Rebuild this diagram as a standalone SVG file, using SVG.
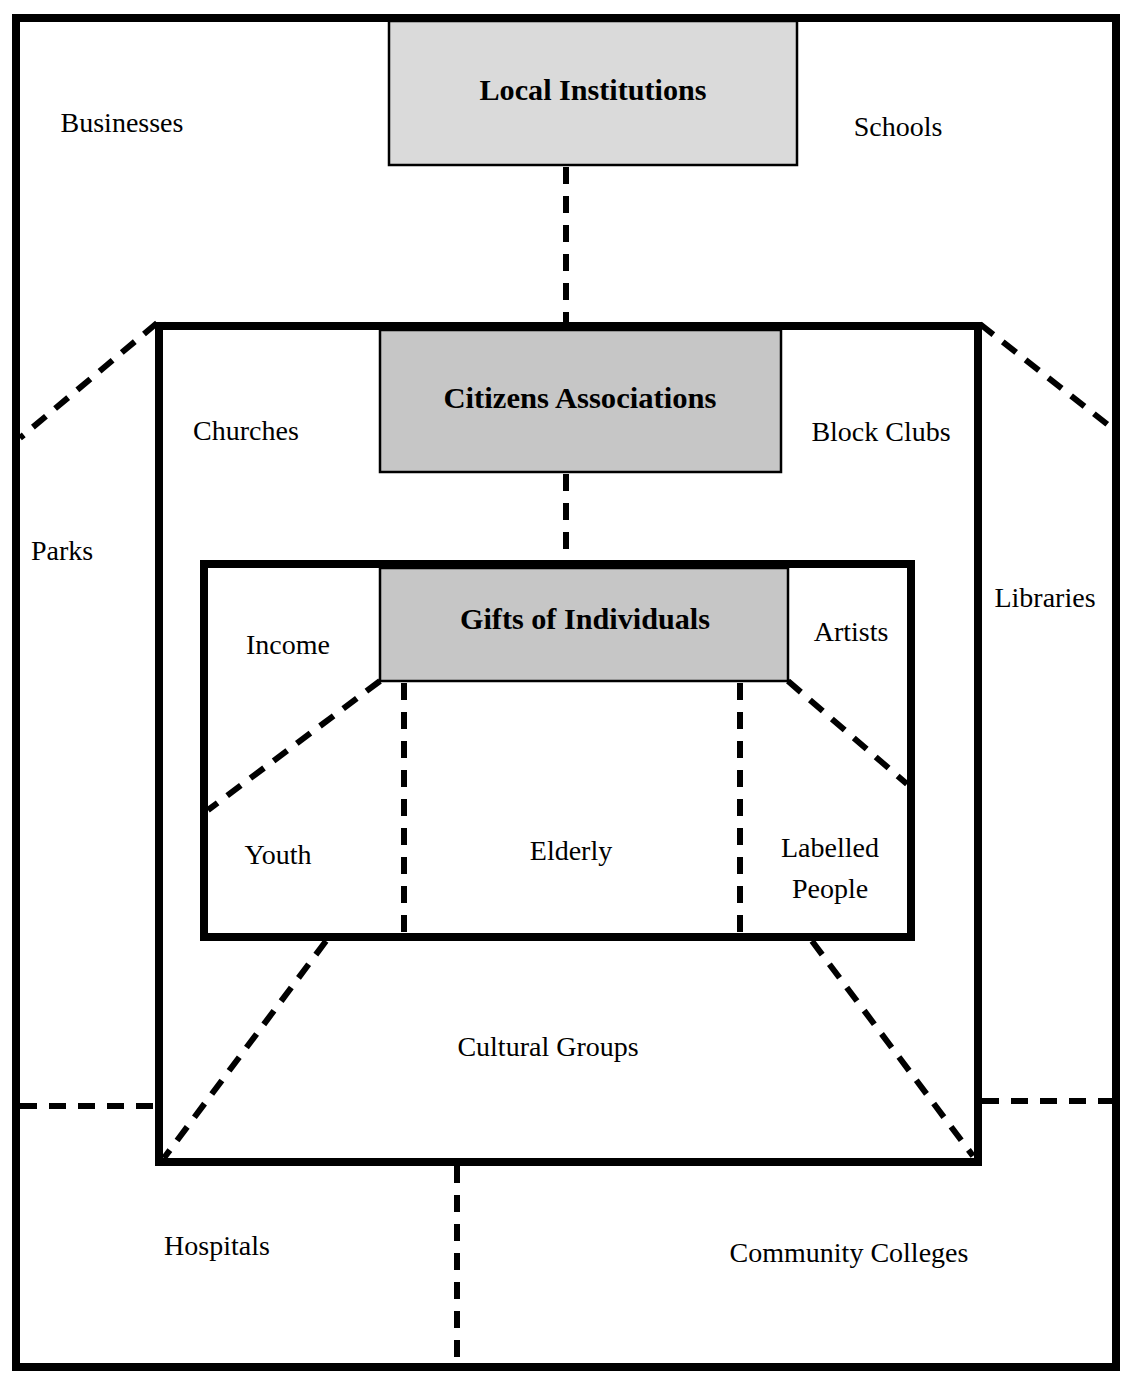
<svg xmlns="http://www.w3.org/2000/svg" width="1129" height="1384" viewBox="0 0 1129 1384">
<style>
.frame{fill:none;stroke:#000;stroke-width:8}
.shade{stroke:#000;stroke-width:2.5}
.dash{fill:none;stroke:#000;stroke-width:6;stroke-dasharray:17 12}
.lbl{font-family:"Liberation Serif",serif;font-size:28px;fill:#000;text-anchor:middle}
.ttl{font-family:"Liberation Serif",serif;font-size:29px;font-weight:bold;fill:#000;text-anchor:middle}
</style>
<rect width="1129" height="1384" fill="#fff"/>
<g id="outer">
<rect class="frame" x="16" y="18" width="1100" height="1349"/>
</g>
<g id="middle">
<rect class="frame" x="159" y="326" width="819" height="836"/>
</g>
<g id="inner">
<rect class="frame" x="204" y="564" width="707" height="373"/>
</g>
<g id="connectors">
<line class="dash" x1="566" y1="167" x2="566" y2="322"/>
<line class="dash" x1="566" y1="474" x2="566" y2="560"/>
<line class="dash" x1="157" y1="323" x2="20" y2="438"/>
<line class="dash" x1="980" y1="324" x2="1112" y2="428"/>
<line class="dash" x1="380" y1="681" x2="208" y2="810"/>
<line class="dash" x1="788" y1="681" x2="907" y2="784"/>
<line class="dash" x1="404" y1="683" x2="404" y2="933"/>
<line class="dash" x1="740" y1="683" x2="740" y2="933"/>
<line class="dash" x1="326" y1="941" x2="164" y2="1158"/>
<line class="dash" x1="812" y1="941" x2="973" y2="1156"/>
<line class="dash" x1="20" y1="1106" x2="155" y2="1106"/>
<line class="dash" x1="982" y1="1101" x2="1112" y2="1101"/>
<line class="dash" x1="457" y1="1166" x2="457" y2="1363"/>
</g>
<g id="local-institutions">
<rect class="shade" x="389" y="21" width="408" height="144" fill="#dadada"/>
<text class="ttl" x="593" y="100" textLength="227" lengthAdjust="spacingAndGlyphs">Local Institutions</text>
</g>
<g id="citizens-associations">
<rect class="shade" x="380" y="330" width="401" height="142" fill="#c6c6c6"/>
<text class="ttl" x="580" y="408" textLength="273" lengthAdjust="spacingAndGlyphs">Citizens Associations</text>
</g>
<g id="gifts-of-individuals">
<rect class="shade" x="380" y="568" width="408" height="113" fill="#c6c6c6"/>
<text class="ttl" x="585" y="629" textLength="250" lengthAdjust="spacingAndGlyphs">Gifts of Individuals</text>
</g>
<g id="labels">
<text class="lbl" x="122" y="132">Businesses</text>
<text class="lbl" x="898" y="136">Schools</text>
<text class="lbl" x="246" y="440">Churches</text>
<text class="lbl" x="881" y="441">Block Clubs</text>
<text class="lbl" x="62" y="560">Parks</text>
<text class="lbl" x="1045" y="607">Libraries</text>
<text class="lbl" x="288" y="654">Income</text>
<text class="lbl" x="851" y="641">Artists</text>
<text class="lbl" x="278" y="864">Youth</text>
<text class="lbl" x="571" y="860">Elderly</text>
<text class="lbl" x="830" y="857">Labelled</text>
<text class="lbl" x="830" y="898">People</text>
<text class="lbl" x="548" y="1056">Cultural Groups</text>
<text class="lbl" x="217" y="1255">Hospitals</text>
<text class="lbl" x="849" y="1262">Community Colleges</text>
</g>
</svg>
